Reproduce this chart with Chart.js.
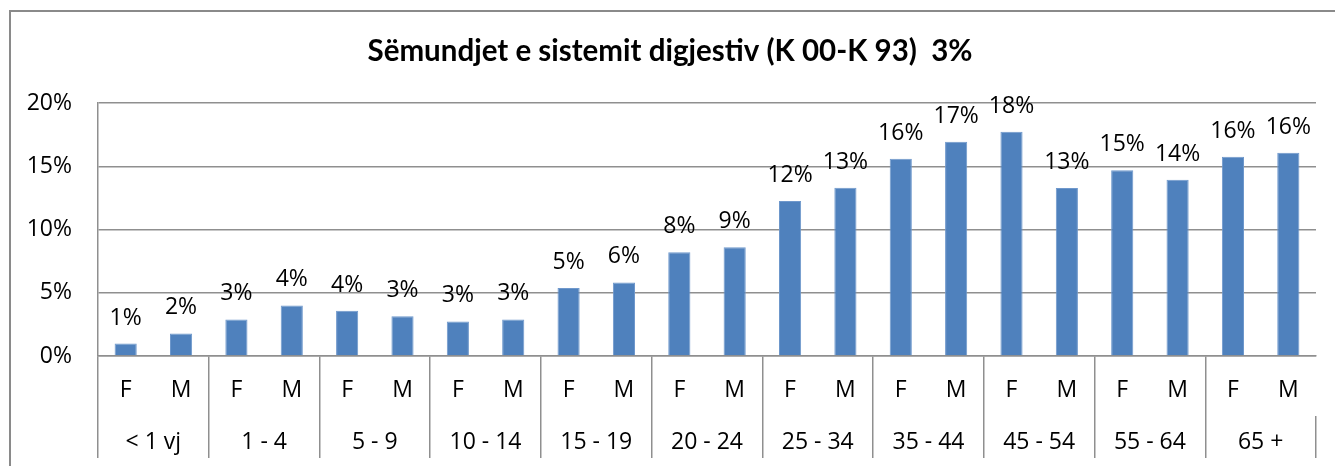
<!DOCTYPE html>
<html>
<head>
<meta charset="utf-8">
<script src="https://cdn.jsdelivr.net/npm/chart.js@4.4.1/dist/chart.umd.min.js"></script>
<style>
    html, body { margin: 0; padding: 0; background: #fff; }
    #wrap { position: relative; width: 1335px; height: 466px; }
    #frame {
        position: absolute; left: 9px; top: 10px; right: -5px; bottom: -10px;
        border-left: 2px solid #8a8a8a; border-top: 2px solid #8a8a8a;
        pointer-events: none;
    }
</style>
</head>
<body>
<div id="wrap">
    <canvas id="grafiku" width="1335" height="466"></canvas>
    <div id="frame"></div>
</div>
<script>
// Grupmoshat dhe gjinia
const grupmoshat = ['< 1 vj', '1 - 4', '5 - 9', '10 - 14', '15 - 19', '20 - 24',
                    '25 - 34', '35 - 44', '45 - 54', '55 - 64', '65 +'];
const gjinite = grupmoshat.flatMap(() => ['F', 'M']);

// Perqindjet (F, M per cdo grupmoshe)
const perqindjet = [0.98, 1.78, 2.89, 4.0, 3.57, 3.15, 2.73, 2.89, 5.37, 5.82, 8.2,
                    8.6, 12.25, 13.3, 15.59, 16.94, 17.73, 13.28, 14.68, 13.94, 15.75, 16.06];

const yTicks = [0, 5, 10, 15, 20];

const FONT = '"Open Sans"';
const GRI = '#8f8f8f';

// Etiketat mbi shtyllat
const etiketat = {
    id: 'etiketat',
    afterDatasetsDraw(chart) {
        const ctx = chart.ctx;
        const meta = chart.getDatasetMeta(0);
        ctx.save();
        ctx.font = '23px ' + FONT;
        ctx.fillStyle = '#000';
        ctx.textAlign = 'center';
        ctx.textBaseline = 'alphabetic';
        meta.data.forEach((bar, i) => {
            ctx.fillText(Math.round(perqindjet[i]) + '%', bar.x, bar.y - 19);
        });
        ctx.restore();
    }
};

new Chart(document.getElementById('grafiku').getContext('2d'), {
    type: 'bar',
    data: {
        labels: gjinite,
        datasets: [{
            data: perqindjet,
            backgroundColor: '#4f81bd',
            borderColor: '#6f98cc',
            borderWidth: 1,
            categoryPercentage: 1,
            barPercentage: 0.4,
            xAxisID: 'x'
        }]
    },
    options: {
        responsive: false,
        animation: false,
        layout: { padding: { left: 24, right: 19, top: 0, bottom: 8 } },
        plugins: {
            legend: { display: false },
            tooltip: { enabled: false },
            title: {
                display: true,
                text: 'Sëmundjet e sistemit digjestiv (K 00-K 93)  3%',
                color: '#000',
                font: { family: 'Lato', size: 29.5, weight: 'bold', lineHeight: 1.2 },
                padding: { top: 34, bottom: 33.6 }
            }
        },
        scales: {
            y: {
                min: 0, max: 20,
                afterBuildTicks: (s) => { s.ticks = yTicks.map(v => ({ value: v })); },
                afterFit: (s) => { s.width = 74; },
                grid: { color: GRI, lineWidth: 1.5, drawTicks: false },
                border: { display: true, color: GRI, width: 1.5 },
                ticks: {
                    color: '#000', padding: 26,
                    font: { family: FONT, size: 23 },
                    callback: v => v + '%'
                }
            },
            x: {
                type: 'category',
                position: 'bottom',
                afterFit: (s) => { s.height = 60; },
                grid: {
                    offset: true,
                    drawOnChartArea: false,
                    tickLength: 60,
                    lineWidth: 1.5,
                    color: c => (c.index % 2 === 0 ? GRI : 'rgba(0,0,0,0)')
                },
                border: { display: true, color: GRI, width: 1.5 },
                ticks: {
                    color: '#000', padding: -39, maxRotation: 0, autoSkip: false,
                    font: { family: FONT, size: 23 }
                }
            },
            x2: {
                type: 'category',
                position: 'bottom',
                labels: grupmoshat,
                offset: true,
                afterFit: (s) => { s.height = 42; },
                grid: {
                    offset: true,
                    drawOnChartArea: false,
                    tickLength: 42,
                    lineWidth: 1.5,
                    color: GRI
                },
                border: { display: false },
                ticks: {
                    color: '#000', padding: -29, maxRotation: 0, autoSkip: false,
                    font: { family: FONT, size: 23 }
                }
            }
        }
    },
    plugins: [etiketat]
});
</script>
</body>
</html>
